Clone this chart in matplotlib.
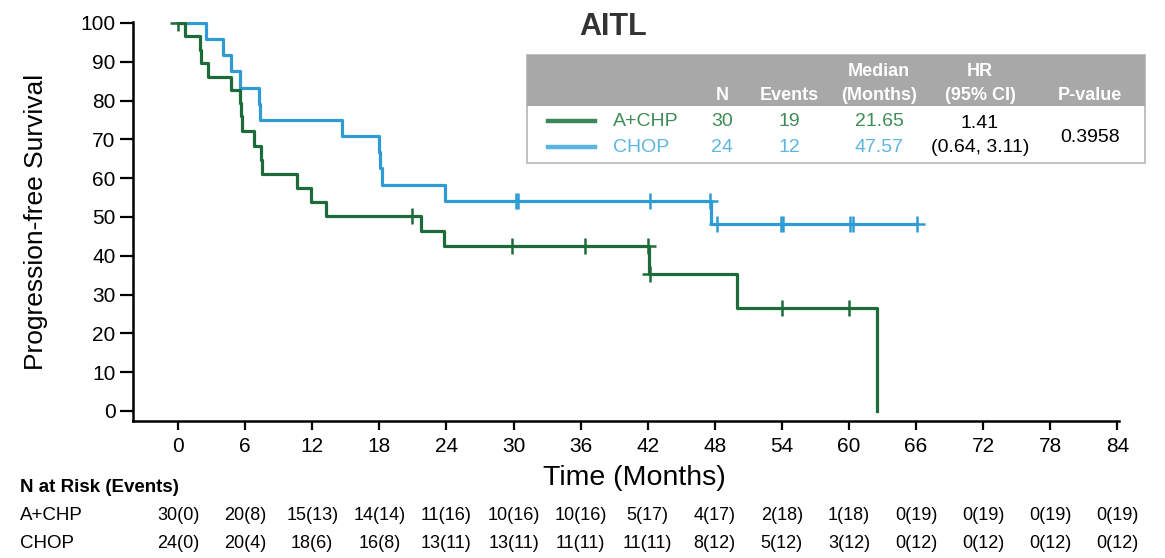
import numpy as np
import matplotlib.pyplot as plt
from matplotlib.patches import Rectangle
from matplotlib.transforms import blended_transform_factory

plt.rcParams['font.family'] = ['Liberation Sans Narrow', 'Liberation Sans', 'DejaVu Sans']

# Kaplan-Meier steps (months, % progression-free)
acp_time = [0, 0.6, 1.95, 2.05, 2.7, 4.7, 5.55, 5.65, 5.75, 6.8, 7.45, 7.55,
            10.6, 11.9, 13.2, 21.7, 23.8, 42.08, 50.0, 62.5]
acp_surv = [100, 96.6, 93.1, 89.7, 86.2, 82.8, 79.3, 75.9, 72.2, 68.4, 64.7, 61.0,
            57.5, 53.8, 50.3, 46.3, 42.4, 35.4, 26.6, 0]
acp_cens = [0, 20.9, 29.9, 36.4, 42.0, 42.2, 54.0, 60.0]

chop_time = [0, 2.5, 4.0, 4.7, 5.55, 7.2, 7.3, 14.65, 18.0, 18.1, 18.2, 23.85, 47.7]
chop_surv = [100, 95.8, 91.7, 87.5, 83.3, 79.2, 75.0, 70.8, 66.7, 62.5, 58.3, 54.1, 48.2]
chop_end = 66.1
chop_cens = [30.2, 30.4, 42.25, 47.6, 48.2, 53.9, 54.1, 60.1, 60.4, 66.1]

risk_months = list(range(0, 85, 6))
risk_acp = ['30(0)', '20(8)', '15(13)', '14(14)', '11(16)', '10(16)', '10(16)', '5(17)',
            '4(17)', '2(18)', '1(18)', '0(19)', '0(19)', '0(19)', '0(19)']
risk_chop = ['24(0)', '20(4)', '18(6)', '16(8)', '13(11)', '13(11)', '11(11)', '11(11)',
             '8(12)', '5(12)', '3(12)', '0(12)', '0(12)', '0(12)', '0(12)']

# summary table
arms = ['A+CHP', 'CHOP']
n_pts = ['30', '24']
n_events = ['19', '12']
medians = ['21.65', '47.57']
hr_text = ['1.41', '(0.64, 3.11)']
p_value = '0.3958'

green = '#1e6b3a'
blue = '#2f9bd4'
green_txt = '#3f8c58'
blue_txt = '#5db6e2'


def surv_at(times, surv, t):
    i = np.searchsorted(times, t, side='right') - 1
    return surv[i]


fig = plt.figure(figsize=(11.65, 5.58), dpi=100)
ax = fig.add_axes([133 / 1165, 1 - 421 / 558, (1119 - 133) / 1165, (421 - 21.8) / 558])

# curves
ax.step(chop_time + [chop_end], chop_surv + [chop_surv[-1]], where='post',
        color=blue, lw=2.3, zorder=3)
ax.step(acp_time, acp_surv, where='post', color=green, lw=2.3, zorder=4)

ax.plot(chop_cens, [surv_at(chop_time, chop_surv, t) for t in chop_cens], '+',
        color=blue, ms=11, mew=1.8, zorder=3)
ax.plot(acp_cens, [surv_at(acp_time, acp_surv, t) for t in acp_cens], '+',
        color=green, ms=11, mew=1.8, zorder=4)

ax.set_xlim(-4.03, 84.15)
ax.set_ylim(-2.58, 100.3)
ax.set_xticks(risk_months)
ax.set_yticks(range(0, 101, 10))
for s in ['top', 'right']:
    ax.spines[s].set_visible(False)
for s in ['left', 'bottom']:
    ax.spines[s].set_linewidth(1.8)
ax.tick_params(axis='y', length=9.5, width=1.6, labelsize=15, pad=3)
ax.tick_params(axis='x', length=6.5, width=1.6, labelsize=15, pad=5)

# pixel-space overlay for the annotation text
ov = fig.add_axes([0, 0, 1, 1], zorder=5)
ov.set_xlim(0, 1165)
ov.set_ylim(558, 0)
ov.axis('off')
ov.patch.set_alpha(0)

ov.text(36, 222, 'Progression-free Survival', rotation=90, ha='center', va='center',
        fontsize=19, family='Liberation Sans')
ov.text(634, 478, 'Time (Months)', ha='center', va='center', fontsize=20.5,
        family='Liberation Sans')
ov.text(613, 27, 'AITL', ha='center', va='center', fontsize=22, fontweight='bold',
        family='Liberation Sans', color='#333333')

# summary table
ov.add_patch(Rectangle((527, 55), 618, 108, facecolor='white', edgecolor='#b5b5b5', lw=1.2))
ov.add_patch(Rectangle((527, 55), 618, 51, facecolor='#a8a8a8', edgecolor='none'))
hdr = dict(ha='center', va='center', fontsize=13, fontweight='bold', color='white')
ov.text(722, 96, 'N', **hdr)
ov.text(789, 96, 'Events', **hdr)
ov.text(879, 71, 'Median', **hdr)
ov.text(879, 96, '(Months)', **hdr)
ov.text(980, 71, 'HR', **hdr)
ov.text(980, 96, '(95% CI)', **hdr)
ov.text(1090, 96, 'P-value', **hdr)

row_y = [122, 148]
row_col = [green_txt, blue_txt]
line_col = ['#3a8757', '#5bb3df']
for i in range(2):
    ov.plot([548, 595], [row_y[i] - 1, row_y[i] - 1], color=line_col[i], lw=3.2)
    ov.text(613, row_y[i], arms[i], ha='left', va='center', fontsize=14, color=row_col[i])
    ov.text(722, row_y[i], n_pts[i], ha='center', va='center', fontsize=14, color=row_col[i])
    ov.text(789, row_y[i], n_events[i], ha='center', va='center', fontsize=14, color=row_col[i])
    ov.text(879, row_y[i], medians[i], ha='center', va='center', fontsize=14, color=row_col[i])
ov.text(980, 124, hr_text[0], ha='center', va='center', fontsize=14, color='black')
ov.text(980, 148, hr_text[1], ha='center', va='center', fontsize=14, color='black')
ov.text(1090, 137, p_value, ha='center', va='center', fontsize=14, color='black')

# number at risk table
tr = blended_transform_factory(ax.transData, ov.transData)
ov.text(20, 488, 'N at Risk (Events)', ha='left', va='center', fontsize=13.5, fontweight='bold')
ov.text(20, 515, 'A+CHP', ha='left', va='center', fontsize=13.5)
ov.text(20, 543, 'CHOP', ha='left', va='center', fontsize=13.5)
for m, a, c in zip(risk_months, risk_acp, risk_chop):
    ax.text(m, 515, a, transform=tr, ha='center', va='center', fontsize=13)
    ax.text(m, 543, c, transform=tr, ha='center', va='center', fontsize=13)

fig.savefig('out.png', dpi=100)
